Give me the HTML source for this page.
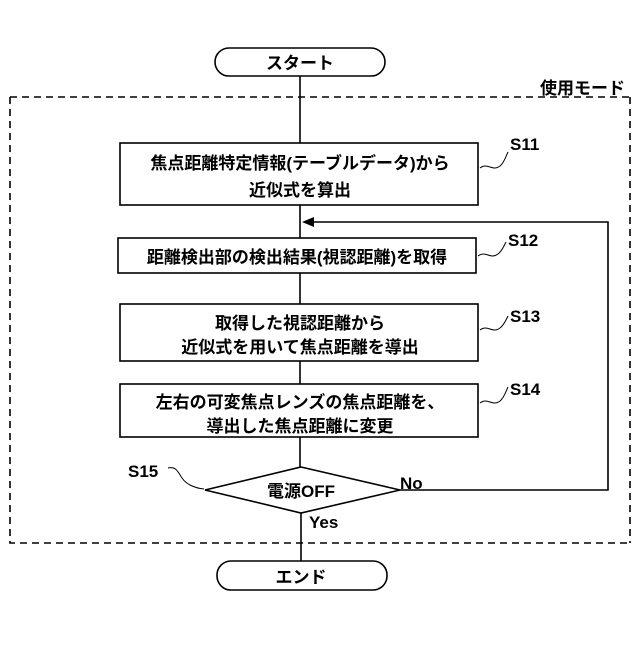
<!DOCTYPE html>
<html><head><meta charset="utf-8"><style>
body{margin:0;background:#fff}
svg text{font-family:"Liberation Sans","Noto Sans CJK JP",sans-serif;font-weight:bold;fill:#000}
</style></head><body>
<svg width="640" height="640" viewBox="0 0 640 640" xmlns="http://www.w3.org/2000/svg">
<g fill="none" stroke="#000" stroke-width="1.6">
<rect x="215" y="48" width="170" height="28" rx="14"/>
<line x1="300" y1="76" x2="300" y2="143"/>
<path d="M10 97 H630 M10 97 V543 H630 M630 97 V543" stroke-dasharray="7,5"/>
<rect x="120" y="143" width="358" height="62"/>
<line x1="300" y1="205" x2="300" y2="238"/>
<rect x="118" y="238" width="358" height="35"/>
<line x1="300" y1="273" x2="300" y2="304"/>
<rect x="120" y="304" width="358" height="57"/>
<line x1="300" y1="361" x2="300" y2="384"/>
<rect x="120" y="384" width="358" height="53"/>
<line x1="300" y1="437" x2="300" y2="467"/>
<polygon points="301,467 400,490 301,513 205,490"/>
<polyline points="400,490 608,490 608,222 312,222"/>
<line x1="301" y1="513" x2="301" y2="561"/>
<rect x="217" y="561" width="170" height="29" rx="14"/>
<path d="M480 168 c8 -6 12 4 20 -2 c4 -3 6 -10 8 -14" stroke-width="1"/>
<path d="M478 256 c8 -6 12 4 20 -2 c4 -3 6 -8 8 -12" stroke-width="1"/>
<path d="M480 330 c8 -6 12 4 20 -2 c4 -3 6 -8 8 -12" stroke-width="1"/>
<path d="M480 403 c8 -6 12 4 20 -2 c4 -3 6 -10 8 -14" stroke-width="1"/>
<path d="M168 468 c8 -2 10 4 14 10 c4 6 12 10 22 11" stroke-width="1"/>
</g>
<polygon points="302,222 314,217 314,227" fill="#000"/>
<g font-size="17" text-anchor="middle">
<text x="300" y="69">スタート</text>
<text x="300" y="169">焦点距離特定情報(テーブルデータ)から</text>
<text x="300" y="196">近似式を算出</text>
<text x="297" y="263">距離検出部の検出結果(視認距離)を取得</text>
<text x="300" y="329">取得した視認距離から</text>
<text x="300" y="353">近似式を用いて焦点距離を導出</text>
<text x="300" y="408">左右の可変焦点レンズの焦点距離を、</text>
<text x="300" y="432">導出した焦点距離に変更</text>
<text x="301" y="497">電源OFF</text>
<text x="301" y="583">エンド</text>
</g>
<g font-size="17">
<text x="540" y="94">使用モード</text>
<text x="510" y="150">S11</text>
<text x="508" y="246">S12</text>
<text x="510" y="322">S13</text>
<text x="510" y="395">S14</text>
<text x="128" y="477">S15</text>
<text x="400" y="489">No</text>
<text x="309" y="528">Yes</text>
</g>
</svg>
</body></html>
